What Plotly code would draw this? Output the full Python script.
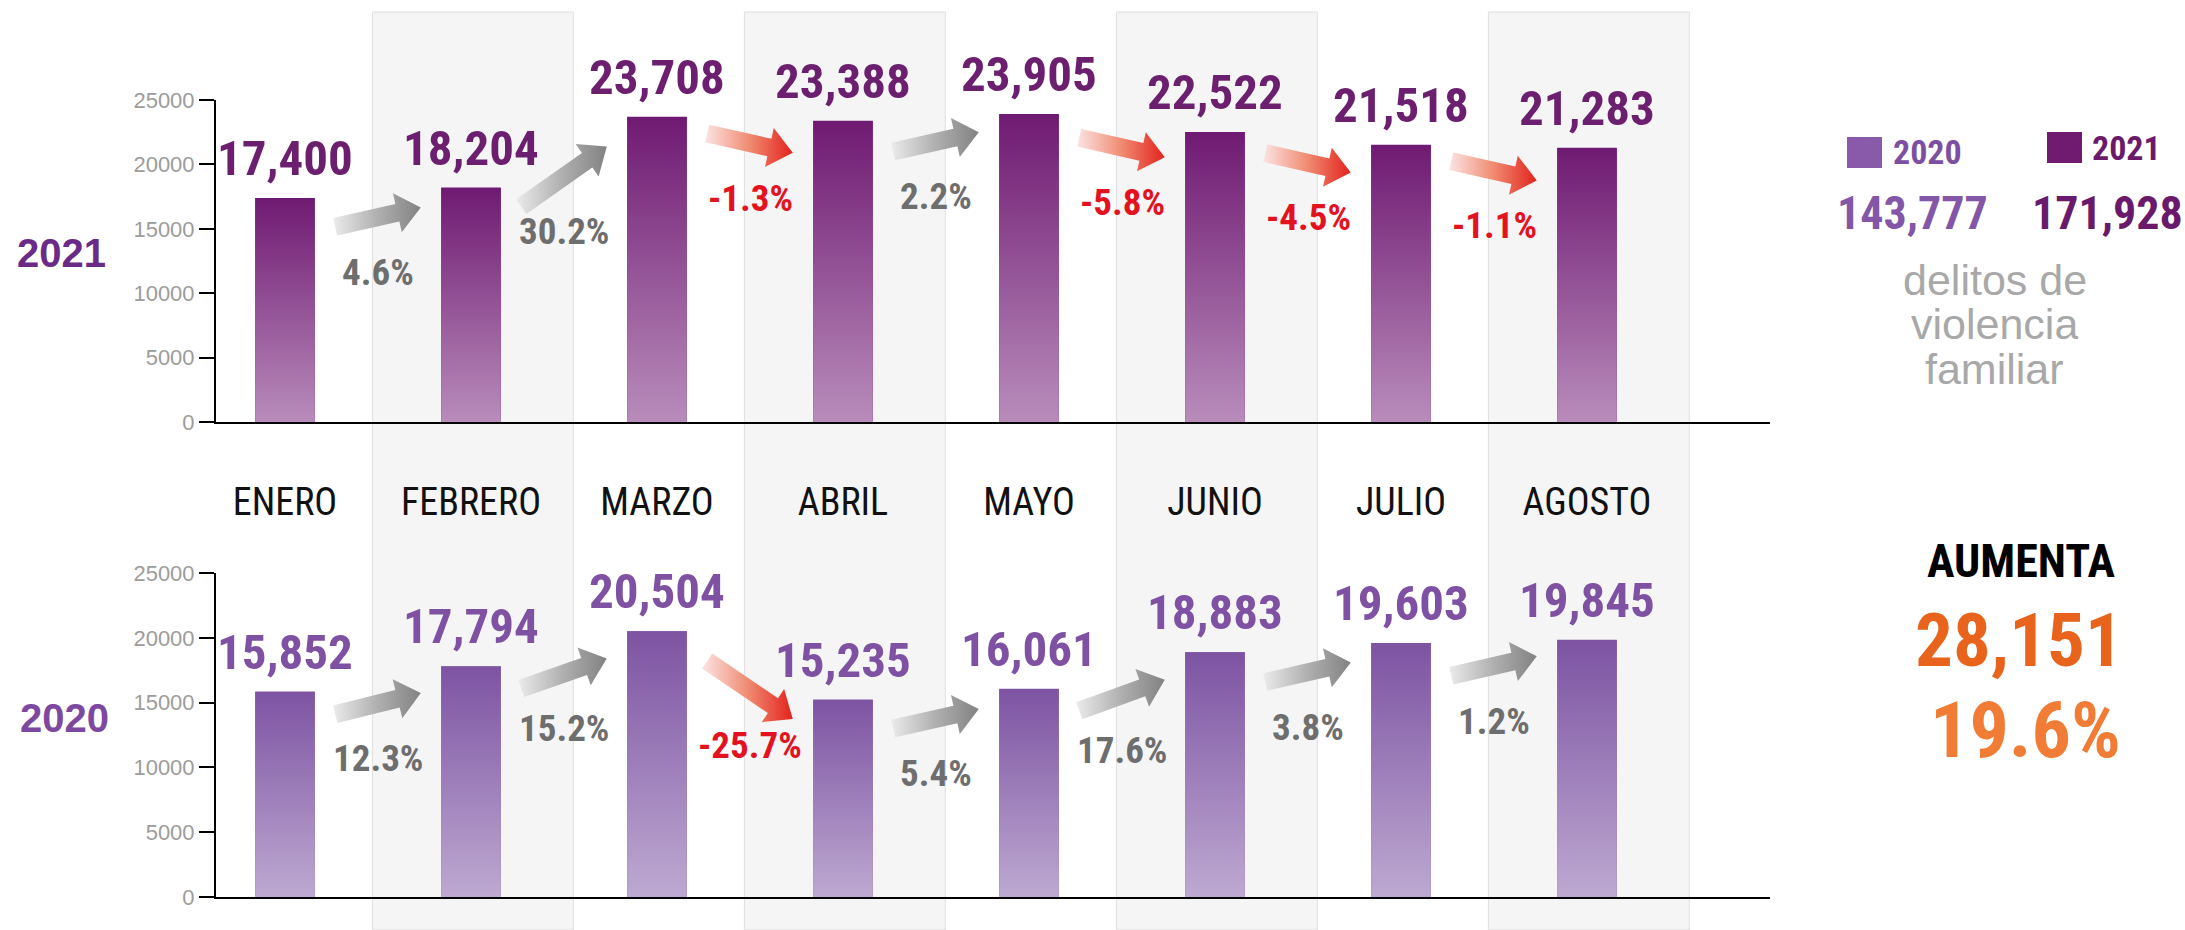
import math
import plotly.graph_objects as go

# ---------------- data ----------------
months = ["ENERO", "FEBRERO", "MARZO", "ABRIL", "MAYO", "JUNIO", "JULIO", "AGOSTO"]
v2021 = [17400, 18204, 23708, 23388, 23905, 22522, 21518, 21283]
v2020 = [15852, 17794, 20504, 15235, 16061, 18883, 19603, 19845]
years = ["2021", "2020"]
y_ticks = [0, 5000, 10000, 15000, 20000, 25000]
desc_lines = ["delitos de", "violencia", "familiar"]
increase_word = "AUMENTA"

total_2020 = sum(v2020)
total_2021 = sum(v2021)
diff = total_2021 - total_2020
diff_pct = diff / total_2020 * 100

# ---------------- layout geometry (pixels) ----------------
W, H = 2185, 930
X_AX0, X_AX1 = 216, 1770          # x extent of both panels
CAT0_PX, CAT_STEP = 285, 186.0    # first category centre / spacing
TOP_Y0, TOP_Y1 = 422, 100         # pixel rows of 0 and 25000 (top panel)
BOT_Y0, BOT_Y1 = 897, 573         # pixel rows of 0 and 25000 (bottom panel)
YMAX = 25000
BAR_W = 0.32

NARROW = "Liberation Sans Narrow, Arial Narrow, Roboto Condensed, DejaVu Sans Condensed, sans-serif"
SANS = "Liberation Sans, Arial, Helvetica, sans-serif"


def px_x(p):
    return p / W


def px_y(p):
    return 1 - p / H


xr = [(X_AX0 - CAT0_PX) / CAT_STEP, (X_AX1 - CAT0_PX) / CAT_STEP]

fig = go.Figure()
annotations = []
shapes = []

# shaded month bands
for i in range(1, len(months), 2):
    shapes.append(dict(type="rect", xref="x", yref="paper", x0=i - 0.53, x1=i + 0.55,
                       y0=0, y1=px_y(12), fillcolor="#f5f5f5",
                       line=dict(color="#dedede", width=1), layer="below"))


def txt(x, y, text, font, xanchor="center", yanchor="middle", **kw):
    d = dict(x=x, y=y, text=text, showarrow=False, xanchor=xanchor, yanchor=yanchor, font=font)
    d.update(kw)
    annotations.append(d)


def add_panel(vals, xa, ya, top_col, bot_col, mid_col, lbl_col, y0px, y1px):
    idx = list(range(len(vals)))
    fig.add_trace(go.Bar(x=idx, y=vals, width=BAR_W, marker=dict(color=mid_col, line=dict(width=0)),
                         xaxis=xa, yaxis=ya, hoverinfo="skip", showlegend=False))
    # gradient overlay for each bar
    for i, v in enumerate(vals):
        x0, x1 = i - BAR_W / 2, i + BAR_W / 2
        fig.add_trace(go.Scatter(x=[x0, x0, x1, x1, x0], y=[0, v, v, 0, 0], mode="lines",
                                 fill="toself", line=dict(width=0, color=mid_col),
                                 fillgradient=dict(type="vertical",
                                                   colorscale=[[0, bot_col], [1, top_col]]),
                                 xaxis=xa, yaxis=ya, hoverinfo="skip", showlegend=False))
        txt(i, v, f"{v:,}", dict(family=NARROW, size=49, color=lbl_col, weight="bold"),
            yanchor="bottom", xref=xa, yref=ya, yshift=9)
    # arrows between bars
    sx = CAT_STEP
    sy = (y0px - y1px) / YMAX
    for i in range(len(vals) - 1):
        dv = vals[i + 1] - vals[i]
        pct = dv / vals[i] * 100
        mid = (vals[i] + vals[i + 1]) / 2 - 1900
        delta = math.copysign(max(abs(dv) * 0.85, 1500), dv)
        tx, ty = i + 0.27, mid - delta / 2
        hx, hy = i + 0.73, mid + delta / 2
        Tp = (tx * sx, ty * sy)
        Hp = (hx * sx, hy * sy)
        L = math.hypot(Hp[0] - Tp[0], Hp[1] - Tp[1])
        d = ((Hp[0] - Tp[0]) / L, (Hp[1] - Tp[1]) / L)
        n = (-d[1], d[0])
        w, hw, hl = 9, 20, 24
        B = (Hp[0] - d[0] * hl, Hp[1] - d[1] * hl)
        pts = [
            (Tp[0] + n[0] * w, Tp[1] + n[1] * w),
            (B[0] + n[0] * w, B[1] + n[1] * w),
            (B[0] + n[0] * hw, B[1] + n[1] * hw),
            Hp,
            (B[0] - n[0] * hw, B[1] - n[1] * hw),
            (B[0] - n[0] * w, B[1] - n[1] * w),
            (Tp[0] - n[0] * w, Tp[1] - n[1] * w),
        ]
        pts.append(pts[0])
        if dv >= 0:
            cs = [[0, "#ebebeb"], [0.5, "#b0b0b0"], [1, "#828282"]]
            tcol = "#6e6e6e"
        else:
            cs = [[0, "#fbe4e4"], [0.5, "#f08c72"], [1, "#e3231d"]]
            tcol = "#e3121f"
        fig.add_trace(go.Scatter(x=[p[0] / sx for p in pts], y=[p[1] / sy for p in pts],
                                 mode="lines", fill="toself", line=dict(width=0, color=cs[1][1]),
                                 fillgradient=dict(type="horizontal", colorscale=cs),
                                 xaxis=xa, yaxis=ya, hoverinfo="skip", showlegend=False))
        txt((tx + hx) / 2, mid, f"{pct:.1f}%", dict(family=NARROW, size=37, color=tcol, weight="bold"),
            xref=xa, yref=ya, yshift=-55)


add_panel(v2021, "x", "y", "#6f1a72", "#b88cbb", "#935096", "#6b1f6e", TOP_Y0, TOP_Y1)
add_panel(v2020, "x2", "y2", "#7d53a2", "#bda9d1", "#9d7fbb", "#7e51a3", BOT_Y0, BOT_Y1)

P = dict(xref="paper", yref="paper")
# year labels
txt(px_x(61), px_y(253), years[0], dict(family=SANS, size=40, color="#6a2a88", weight="bold"), **P)
txt(px_x(64), px_y(718), years[1], dict(family=SANS, size=40, color="#7d48a0", weight="bold"), **P)

# legend block
shapes.append(dict(type="rect", xref="paper", yref="paper", x0=px_x(1847), x1=px_x(1882),
                   y0=px_y(168), y1=px_y(137), fillcolor="#8a5aaa", line=dict(width=0)))
shapes.append(dict(type="rect", xref="paper", yref="paper", x0=px_x(2047), x1=px_x(2082),
                   y0=px_y(163), y1=px_y(132), fillcolor="#701a70", line=dict(width=0)))
txt(px_x(1891), px_y(152), years[1], dict(family=NARROW, size=34, color="#7d4fa3", weight="bold"),
    xanchor="left", **P)
txt(px_x(2090), px_y(148), years[0], dict(family=NARROW, size=34, color="#6b1a6b", weight="bold"),
    xanchor="left", **P)
txt(px_x(1912), px_y(213), f"{total_2020:,}", dict(family=NARROW, size=46, color="#8456a8", weight="bold"), **P)
txt(px_x(2107), px_y(213), f"{total_2021:,}", dict(family=NARROW, size=46, color="#6a1a6a", weight="bold"), **P)
for line, yc in zip(desc_lines, [280, 324, 369]):
    txt(px_x(1995), px_y(yc), line, dict(family=SANS, size=43, color="#a8a8a8"), height=42, **P)

# increase block
txt(px_x(2021), px_y(561), increase_word, dict(family=NARROW, size=46, color="#000000", weight="bold"), **P)
txt(px_x(2019), px_y(640), f"{diff:,}", dict(family=NARROW, size=75, color="#e8641c", weight="bold"), **P)
txt(px_x(2025), px_y(730), f"{diff_pct:.1f}%", dict(family=NARROW, size=78, color="#f07c35", weight="bold"), **P)

yaxis_common = dict(range=[0, YMAX], tickvals=y_ticks, tickformat="d", ticks="outside", ticklen=15,
                    tickwidth=2, tickcolor="#000", showline=True, linecolor="#000", linewidth=2,
                    showgrid=False, zeroline=False, automargin=False,
                    tickfont=dict(family=SANS, size=22, color="#9c9c9c"), fixedrange=True)
xaxis_common = dict(range=xr, domain=[px_x(X_AX0), px_x(X_AX1)], showline=True, linecolor="#000",
                    linewidth=2, showgrid=False, zeroline=False, ticks="", fixedrange=True,
                    automargin=False, tickvals=list(range(len(months))), ticktext=months)

fig.update_layout(
    width=W, height=H, autosize=False,
    margin=dict(l=0, r=0, t=0, b=0, pad=0),
    paper_bgcolor="#ffffff", plot_bgcolor="rgba(0,0,0,0)",
    showlegend=False, bargap=0,
    xaxis=dict(**xaxis_common, anchor="y", ticklabelstandoff=45,
               tickfont=dict(family=NARROW, size=38, color="#111111")),
    yaxis=dict(**yaxis_common, anchor="x", domain=[px_y(TOP_Y0), px_y(TOP_Y1)]),
    xaxis2=dict(**xaxis_common, anchor="y2", showticklabels=False),
    yaxis2=dict(**yaxis_common, anchor="x2", domain=[px_y(BOT_Y0), px_y(BOT_Y1)]),
    annotations=annotations,
    shapes=shapes,
)

fig.write_html("out.html", config={"displayModeBar": False},
               post_script="document.body.style.margin='0';document.body.style.overflow='hidden';")
